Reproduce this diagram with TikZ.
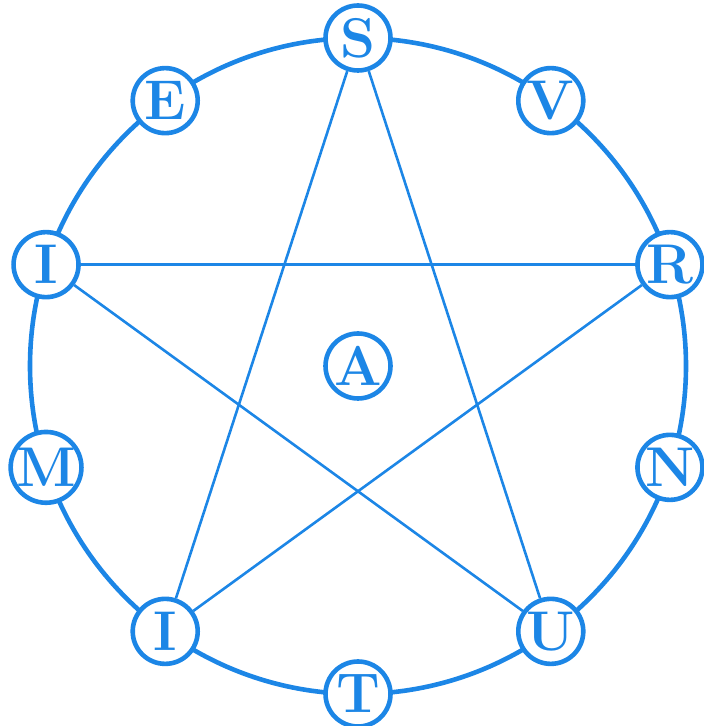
\documentclass[tikz,border=0pt]{standalone}
\definecolor{ink}{RGB}{28,134,230}
\begin{document}
\begin{tikzpicture}[x=1pt,y=1pt,
  letter/.style={circle,draw=ink,line width=4.6pt,fill=white,minimum size=65pt,inner sep=0pt,text=ink,font=\fontsize{56}{56}\selectfont\bfseries},
  starline/.style={draw=ink,line width=2.6pt},
  ring/.style={draw=ink,line width=4.6pt}]
\useasboundingbox (0,0) rectangle (704,726);
\coordinate (O) at (358,360);
\draw[ring] (O) circle (328);
\foreach \n/\a/\t in {s/90/S, e/126/E, il/162/I, m/198/M, ib/234/I, t/270/T, u/306/U, n/342/N, r/18/R, v/54/V}
  \node[letter] (\n) at ([shift={(\a:328)}]O) {\t};
\node[letter] (a) at (O) {A};
\draw[starline] (s) -- (ib);
\draw[starline] (s) -- (u);
\draw[starline] (il) -- (r);
\draw[starline] (il) -- (u);
\draw[starline] (r) -- (ib);
\end{tikzpicture}
\end{document}
